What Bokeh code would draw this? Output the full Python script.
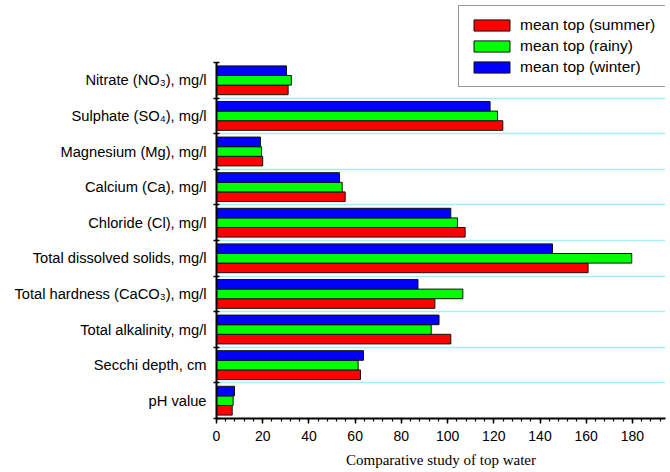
from bokeh.plotting import figure
from bokeh.models import FixedTicker, Range1d, Legend, LegendItem, ColumnDataSource, SingleIntervalTicker
from bokeh.embed import file_html
from bokeh.resources import INLINE

categories = [
    "pH value",
    "Secchi depth, cm",
    "Total alkalinity, mg/l",
    "Total hardness (CaCO\u2083), mg/l",
    "Total dissolved solids, mg/l",
    "Chloride (Cl), mg/l",
    "Calcium (Ca), mg/l",
    "Magnesium (Mg), mg/l",
    "Sulphate (SO\u2084), mg/l",
    "Nitrate (NO\u2083), mg/l",
]
summer = [6.8, 62.3, 101.4, 94.5, 160.8, 107.6, 55.7, 20.0, 123.9, 31.0]
rainy = [7.2, 61.3, 92.9, 106.6, 179.7, 104.3, 54.4, 19.5, 121.6, 32.4]
winter = [7.8, 63.6, 96.3, 87.2, 145.4, 101.4, 53.2, 19.0, 118.4, 30.3]
series_labels = ["mean top (summer)", "mean top (rainy)", "mean top (winter)"]

FONT = "Liberation Sans"
n = len(categories)
idx = list(range(n))
bh = 0.27
band_px = 35.6
extra_top = 60 / band_px  # room above the last category for the legend

p = figure(width=668, height=468, output_backend="svg", toolbar_location=None,
           x_range=Range1d(0, 194.3), y_range=Range1d(-0.5, n - 0.5 + extra_top),
           min_border_left=216, min_border_right=3, min_border_top=2, min_border_bottom=50,
           frame_width=449, frame_height=416)
p.outline_line_color = None
p.background_fill_color = "white"
p.border_fill_color = "white"

renderers = []
colors = ["#FF0000", "#00FF00", "#0000FF"]
offsets = [-bh, 0.0, bh]
for vals, col, off in zip([summer, rainy, winter], colors, offsets):
    src = ColumnDataSource(dict(y=[i + off for i in idx], right=vals))
    r = p.hbar(y="y", right="right", left=0, height=bh, source=src,
               fill_color=col, line_color="#111111", line_width=1)
    renderers.append(r)

# axes
p.xaxis.ticker = SingleIntervalTicker(interval=20, num_minor_ticks=5)
p.xaxis.axis_line_width = 2
p.xaxis.axis_line_color = "black"
p.xaxis.major_tick_in = 0
p.xaxis.major_tick_out = 5
p.xaxis.minor_tick_in = 0
p.xaxis.minor_tick_out = 3
p.xaxis.major_tick_line_width = 1.5
p.xaxis.minor_tick_line_width = 1.2
p.xaxis.major_label_text_font = FONT
p.xaxis.major_label_text_font_size = "14px"
p.xaxis.major_label_text_color = "black"
p.xaxis.major_label_standoff = 7
p.xaxis.axis_label = "Comparative study of top water"
p.xaxis.axis_label_text_font = "Liberation Serif"
p.xaxis.axis_label_text_font_style = "normal"
p.xaxis.axis_label_text_font_size = "15px"
p.xaxis.axis_label_standoff = 8
p.xaxis.axis_label_text_color = "black"

p.yaxis.bounds = (-0.5, n - 0.5)
p.yaxis.ticker = FixedTicker(ticks=idx, minor_ticks=[i - 0.5 for i in range(n + 1)])
p.yaxis.major_label_overrides = {i: c for i, c in enumerate(categories)}
p.yaxis.major_tick_line_color = None
p.yaxis.major_tick_in = 0
p.yaxis.major_tick_out = 0
p.yaxis.minor_tick_in = 3
p.yaxis.minor_tick_out = 3
p.yaxis.minor_tick_line_width = 1.5
p.yaxis.minor_tick_line_color = "black"
p.yaxis.axis_line_width = 2
p.yaxis.axis_line_color = "black"
p.yaxis.major_label_text_font = FONT
p.yaxis.major_label_text_font_size = "14.7px"
p.yaxis.major_label_text_color = "black"
p.yaxis.major_label_standoff = 7

p.xgrid.grid_line_color = None
p.ygrid.ticker = FixedTicker(ticks=[i + 0.5 for i in range(n - 1)])
p.ygrid.grid_line_color = "#A6EEF2"
p.ygrid.grid_line_width = 1.5

legend = Legend(items=[LegendItem(label=lab, renderers=[r]) for lab, r in zip(series_labels, renderers)],
                location=(242, 331))
legend.label_text_font = FONT
legend.label_text_font_size = "15.5px"
legend.label_text_color = "black"
legend.glyph_width = 45
legend.glyph_height = 14
legend.label_height = 18
legend.spacing = 3
legend.padding = 10
legend.margin = 0
legend.label_standoff = 6
legend.border_line_color = "#333333"
legend.border_line_width = 1
legend.background_fill_alpha = 1
p.add_layout(legend, "center")

open("out.html", "w").write(file_html(p, INLINE))
